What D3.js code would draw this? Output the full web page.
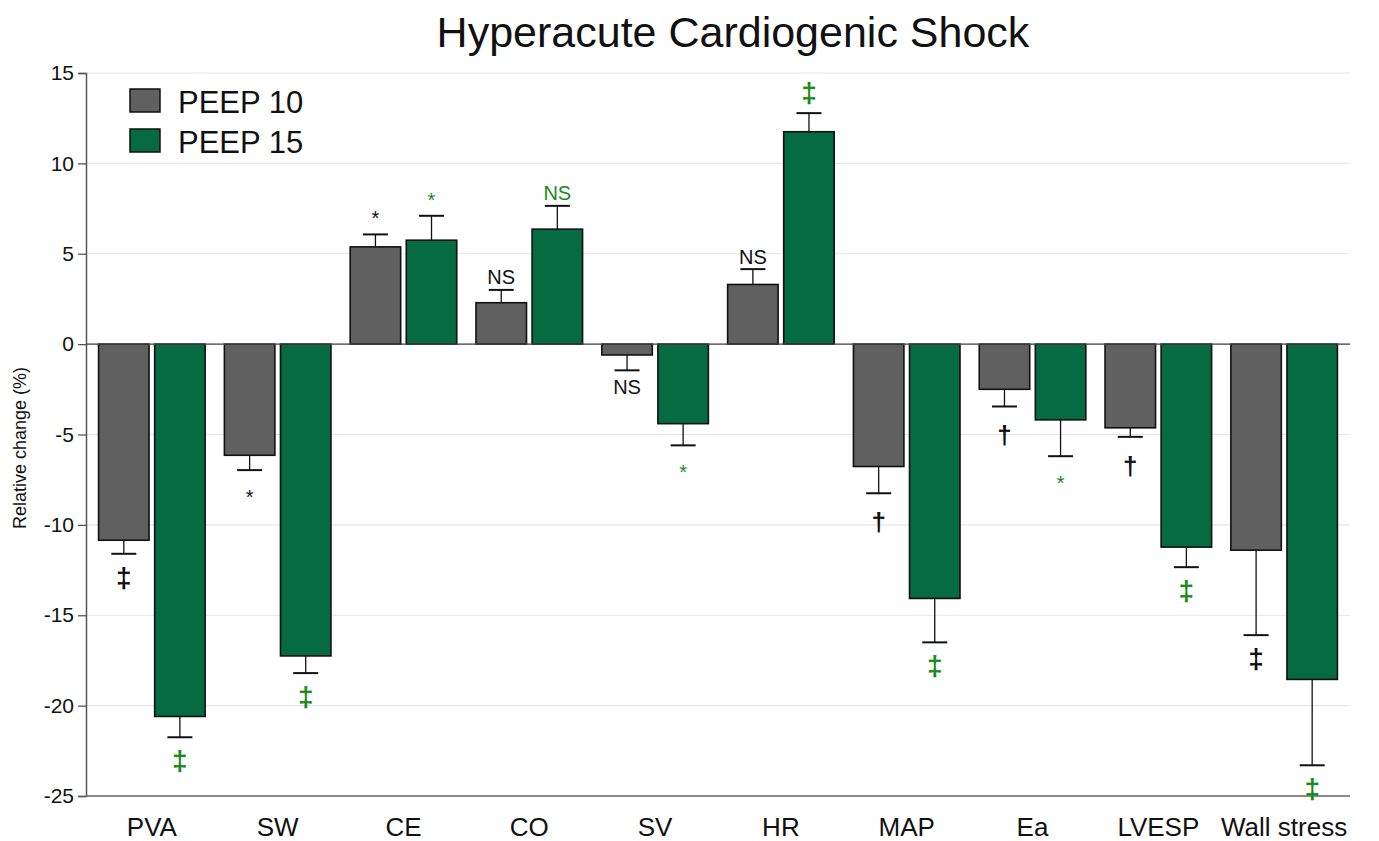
<!DOCTYPE html>
<html>
<head>
<meta charset="utf-8">
<script src="https://cdn.jsdelivr.net/npm/d3@7"></script>
<style>
  body { margin: 0; background: #fff; }
  svg { font-family: "Liberation Sans", Arial, sans-serif; }
</style>
</head>
<body>
<div id="chart"></div>
<script>
// chart values
var categories = ["PVA", "SW", "CE", "CO", "SV", "HR", "MAP", "Ea", "LVESP", "Wall stress"];
var seriesNames = ["PEEP 10", "PEEP 15"];
var peep10 = [-10.85, -6.15, 5.38, 2.29, -0.6, 3.3, -6.77, -2.5, -4.63, -11.4];
var peep10Err = [0.75, 0.82, 0.69, 0.71, 0.85, 0.85, 1.48, 0.95, 0.5, 4.7];
var peep15 = [-20.6, -17.25, 5.75, 6.36, -4.4, 11.75, -14.07, -4.19, -11.23, -18.55];
var peep15Err = [1.15, 0.95, 1.35, 1.29, 1.2, 1.03, 2.43, 2.01, 1.11, 4.75];
var sig10 = ["‡", "*", "*", "NS", "NS", "NS", "†", "†", "†", "‡"];
var sig15 = ["‡", "‡", "*", "NS", "*", "‡", "‡", "*", "‡", "‡"];
var yTicks = [-25, -20, -15, -10, -5, 0, 5, 10, 15];

var W = 1379, H = 841;
var margin = { top: 73, right: 29, bottom: 45, left: 86 };
var width = W - margin.left - margin.right;
var height = H - margin.top - margin.bottom;

var barFill = ["#606060", "#066a43"];
var sigColor = ["#111111", "#1a8a1a"];

var svg = d3.select("#chart").append("svg")
  .attr("width", W).attr("height", H);

var g = svg.append("g")
  .attr("transform", "translate(" + margin.left + "," + margin.top + ")");

// scales
var x0 = d3.scaleBand().domain(categories).range([0, width])
  .paddingInner(0.153).paddingOuter(0.1);
var x1 = d3.scaleBand().domain(seriesNames).range([0, x0.bandwidth()])
  .paddingInner(0.1);
var y = d3.scaleLinear().domain([-25, 15]).range([height, 0]);

// grid
g.selectAll(".grid").data(yTicks).enter().append("line")
  .attr("x1", 0).attr("x2", width)
  .attr("y1", d => y(d)).attr("y2", d => y(d))
  .attr("stroke", "#e6e6e6").attr("stroke-width", 1.2);

// y axis (plain hyphen for negatives, like the original)
var yAxis = g.append("g")
  .call(d3.axisLeft(y).tickValues(yTicks).tickSize(8).tickPadding(4)
    .tickFormat(d => String(d)));
yAxis.select(".domain").attr("stroke", "#555").attr("stroke-width", 1.5);
yAxis.selectAll(".tick line").attr("stroke", "#555").attr("stroke-width", 1.3);
yAxis.selectAll(".tick text")
  .attr("font-size", 21).attr("fill", "#111")
  .style("font-family", "Liberation Sans, Arial, sans-serif");

// bottom axis line
g.append("line").attr("x1", 0).attr("x2", width)
  .attr("y1", height).attr("y2", height)
  .attr("stroke", "#666").attr("stroke-width", 1.5);

// build rows
var rows = [];
categories.forEach(function (c, i) {
  rows.push({ cat: c, s: 0, v: peep10[i], e: peep10Err[i], sig: sig10[i] });
  rows.push({ cat: c, s: 1, v: peep15[i], e: peep15Err[i], sig: sig15[i] });
});
function bx(d) { return x0(d.cat) + x1(seriesNames[d.s]); }

// bars
g.selectAll(".bar").data(rows).enter().append("rect")
  .attr("x", d => bx(d))
  .attr("width", x1.bandwidth())
  .attr("y", d => y(Math.max(0, d.v)))
  .attr("height", d => Math.abs(y(d.v) - y(0)))
  .attr("fill", d => barFill[d.s])
  .attr("stroke", "#111").attr("stroke-width", 1.6);

// zero line
g.append("line").attr("x1", 0).attr("x2", width)
  .attr("y1", y(0)).attr("y2", y(0))
  .attr("stroke", "#444").attr("stroke-width", 1.3);

// error bars (one-sided, away from zero)
function errEnd(d) { return d.v >= 0 ? d.v + d.e : d.v - d.e; }
var eb = g.selectAll(".err").data(rows).enter().append("g");
eb.append("line")
  .attr("x1", d => bx(d) + x1.bandwidth() / 2)
  .attr("x2", d => bx(d) + x1.bandwidth() / 2)
  .attr("y1", d => y(d.v)).attr("y2", d => y(errEnd(d)))
  .attr("stroke", "#111").attr("stroke-width", 1.3);
eb.append("line")
  .attr("x1", d => bx(d) + x1.bandwidth() / 2 - 12.5)
  .attr("x2", d => bx(d) + x1.bandwidth() / 2 + 12.5)
  .attr("y1", d => y(errEnd(d))).attr("y2", d => y(errEnd(d)))
  .attr("stroke", "#111").attr("stroke-width", 2);

// significance marks
var fontFor = { "NS": 20, "*": 20, "†": 26, "‡": 28 };
function labelY(d) {
  var yy = y(errEnd(d));
  if (d.v >= 0) {
    if (d.sig === "*") return yy - 9;
    if (d.sig === "NS") return yy - 5.5;
    return yy - 11;
  }
  if (d.sig === "NS") return yy + 24;
  if (d.sig === "*") return yy + 34;
  if (d.sig === "†") return yy + 38;
  return yy + 33;
}
g.selectAll(".sig").data(rows).enter().append("text")
  .attr("x", d => bx(d) + x1.bandwidth() / 2)
  .attr("y", d => labelY(d))
  .attr("text-anchor", "middle")
  .attr("font-size", d => fontFor[d.sig])
  .attr("font-weight", d => (d.sig === "‡" || d.sig === "†") ? "bold" : "normal")
  .attr("fill", d => sigColor[d.s])
  .text(d => d.sig);

// x category labels
g.selectAll(".xlab").data(categories).enter().append("text")
  .attr("x", d => x0(d) + x0.bandwidth() / 2)
  .attr("y", height + 40)
  .attr("text-anchor", "middle")
  .attr("font-size", 26).attr("fill", "#111")
  .text(d => d);

// y axis title
svg.append("text")
  .attr("transform", "translate(26," + 448 + ") rotate(-90)")
  .attr("text-anchor", "middle")
  .attr("font-size", 18).attr("fill", "#111")
  .text("Relative change (%)");

// title
svg.append("text")
  .attr("x", 733).attr("y", 47)
  .attr("text-anchor", "middle")
  .attr("font-size", 43).attr("fill", "#111")
  .text("Hyperacute Cardiogenic Shock");

// legend
var legend = svg.append("g").attr("transform", "translate(130,89)");
var li = legend.selectAll("g").data(seriesNames).enter().append("g")
  .attr("transform", (d, i) => "translate(0," + i * 40 + ")");
li.append("rect").attr("width", 30).attr("height", 23)
  .attr("fill", (d, i) => barFill[i])
  .attr("stroke", "#111").attr("stroke-width", 1.5);
li.append("text").attr("x", 48).attr("y", 24)
  .attr("font-size", 31).attr("fill", "#111")
  .text(d => d);
</script>
</body>
</html>
